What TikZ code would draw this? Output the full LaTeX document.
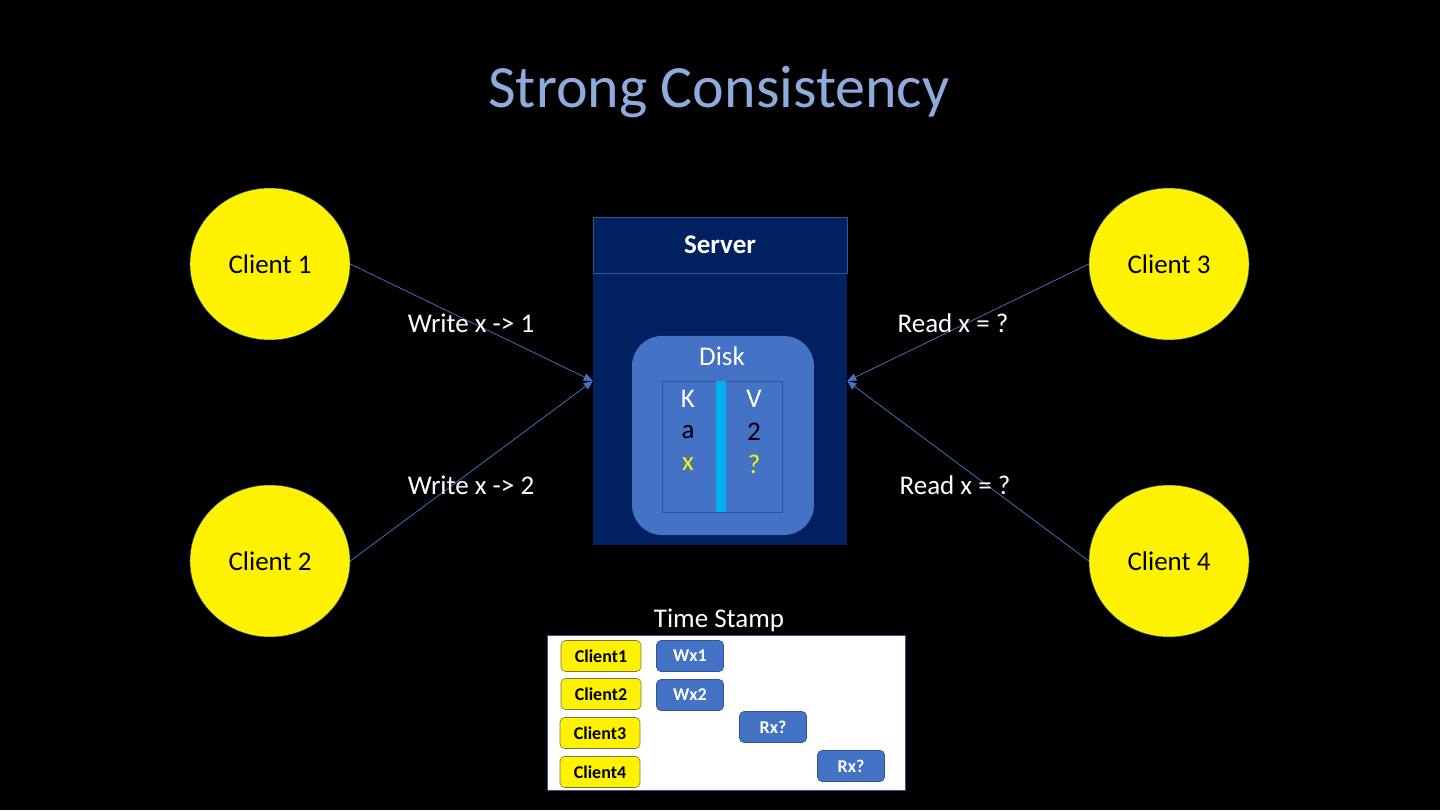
\documentclass[tikz,border=0pt]{standalone}
\usepackage{fontspec}
\setmainfont{Carlito}
\usetikzlibrary{arrows.meta,shapes.geometric}
\definecolor{titleblue}{HTML}{8FAADC}
\definecolor{navy}{HTML}{002060}
\definecolor{diskblue}{HTML}{4472C4}
\definecolor{edgeblue}{HTML}{2F5597}
\definecolor{barblue}{HTML}{00B0F0}
\begin{document}
\begin{tikzpicture}[x=0.6667pt,y=-0.6667pt,
 client/.style={ellipse,draw=edgeblue,line width=0.3pt,fill=yellow,minimum width=106.7pt,minimum height=101.3pt,font=\fontsize{18}{22}\selectfont},
 lbl/.style={text=white,font=\fontsize{18}{22}\selectfont},
 cell/.style={font=\fontsize{18}{22}\selectfont},
 msg/.style={draw=diskblue,line width=0.5pt,-{Triangle[length=6pt,width=5pt]}},
 cbox/.style={draw=black!60!yellow,fill=yellow,rounded corners=3pt,minimum width=53.3pt,minimum height=20.7pt,font=\bfseries\fontsize{12}{14}\selectfont},
 opbox/.style={draw=edgeblue,fill=diskblue,rounded corners=3pt,text=white,minimum width=44.7pt,minimum height=20.7pt,font=\bfseries\fontsize{12}{14}\selectfont}]
 \fill[black] (0,0) rectangle (1440,810);
 \node[text=titleblue,font=\fontsize{40}{48}\selectfont] (title) at (719,92) {Strong Consistency};
 \node[client] (c1) at (270,264) {Client 1};
 \node[client] (c2) at (270,561) {Client 2};
 \node[client] (c3) at (1169,264) {Client 3};
 \node[client] (c4) at (1169,561) {Client 4};
 \node[fill=navy,minimum width=169.3pt,minimum height=218.7pt] (srv) at (720,381) {};
 \node[draw=edgeblue,fill=navy,text=white,minimum width=169.3pt,minimum height=37.3pt,font=\bfseries\fontsize{18}{22}\selectfont] (hdr) at (720,245) {Server};
 \node[fill=diskblue,rounded corners=20pt,minimum width=121.3pt,minimum height=132.7pt] (disk) at (723,435.5) {};
 \node[lbl] (disklbl) at (722,356) {Disk};
 \node[draw=edgeblue,minimum width=80pt,minimum height=87.3pt] (kv) at (722,446.5) {};
 \node[fill=barblue,inner sep=0pt,minimum width=6.7pt,minimum height=87.3pt] (bar) at (721,446.5) {};
 \node[cell,text=white] (k) at (688,399) {K};
 \node[cell,text=white] (v) at (754,399) {V};
 \node[cell] (ka) at (688,432) {a};
 \node[cell] (va) at (754,432) {2};
 \node[cell,text=yellow] (kx) at (688,464) {x};
 \node[cell,text=yellow] (vx) at (754,464) {?};
 \draw[msg] (c1.east) -- (srv.west);
 \draw[msg] (c2.east) -- (srv.west);
 \draw[msg] (c3.west) -- (srv.east);
 \draw[msg] (c4.west) -- (srv.east);
 \node[lbl] (w1) at (471,323) {Write x -> 1};
 \node[lbl] (w2) at (471,485) {Write x -> 2};
 \node[lbl] (r3) at (953,323) {Read x = ?};
 \node[lbl] (r4) at (955,485) {Read x = ?};
 \node[lbl] (tslbl) at (719,620) {Time Stamp};
 \node[draw=edgeblue,fill=white,minimum width=238.7pt,minimum height=103.3pt] (ts) at (726,712.5) {};
 \node[cbox] (t1) at (601,656) {Client1};
 \node[cbox] (t2) at (601,694) {Client2};
 \node[cbox] (t3) at (600,733) {Client3};
 \node[cbox] (t4) at (600,772) {Client4};
 \node[opbox] (o1) at (690,656) {Wx1};
 \node[opbox] (o2) at (690,695) {Wx2};
 \node[opbox] (o3) at (773,727) {Rx?};
 \node[opbox] (o4) at (851,766) {Rx?};
\end{tikzpicture}
\end{document}
